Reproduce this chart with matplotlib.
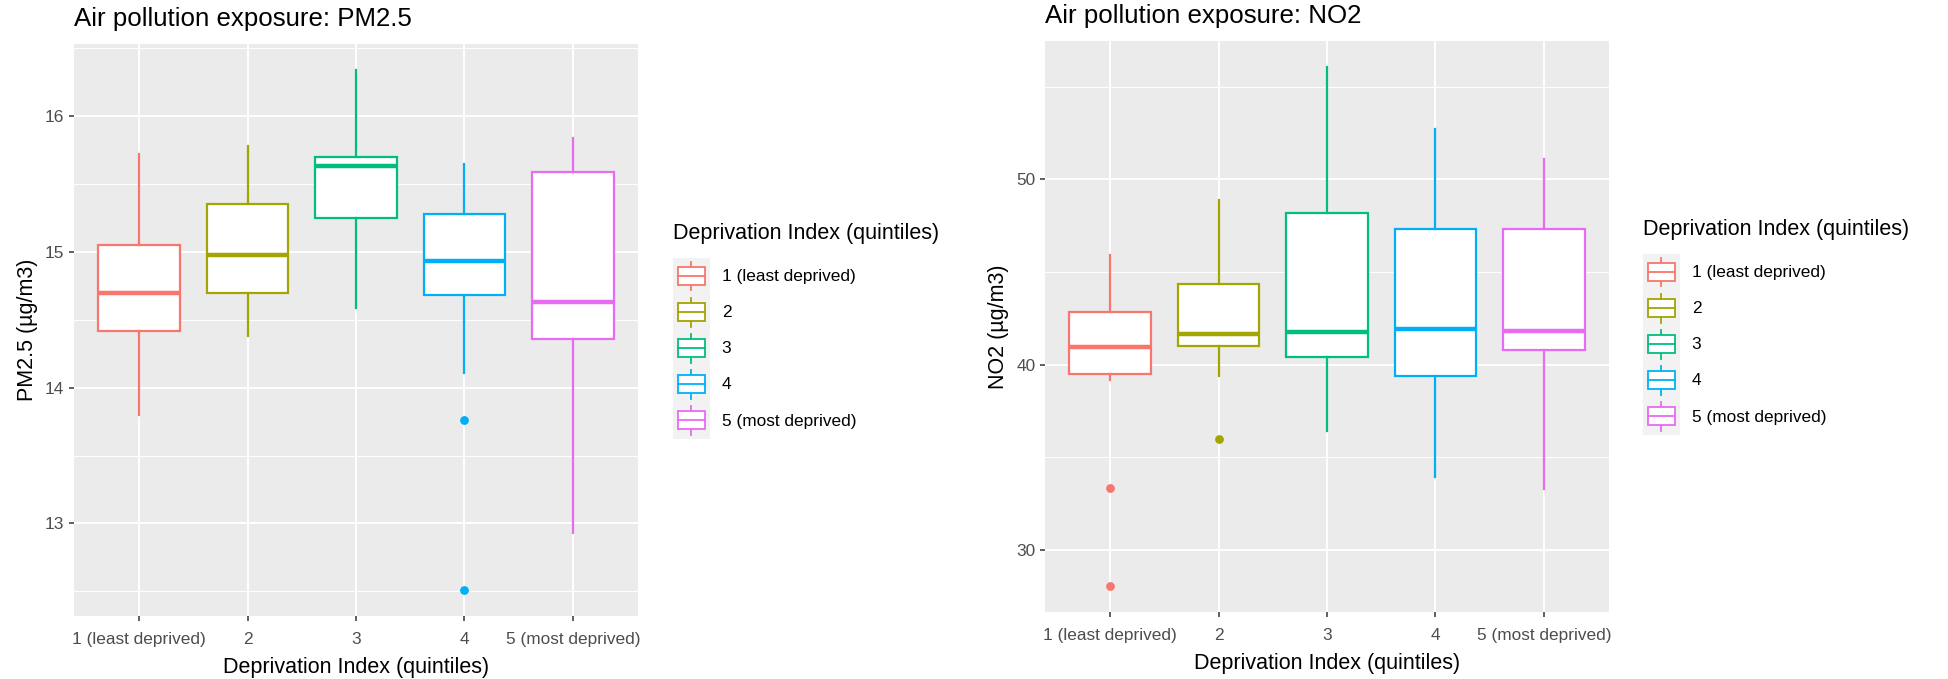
import matplotlib
matplotlib.use('Agg')
import matplotlib.pyplot as plt
from matplotlib.patches import Rectangle, Patch
from matplotlib.lines import Line2D
from matplotlib.legend_handler import HandlerBase
from matplotlib.ticker import MultipleLocator

plt.rcParams['font.family'] = ['Liberation Sans', 'DejaVu Sans']

# ---- data ----
categories = ['1 (least deprived)', '2', '3', '4', '5 (most deprived)']
colors = ['#F8766D', '#A3A500', '#00BF7D', '#00B0F6', '#E76BF3']

pm_whislo = [13.80, 14.38, 14.59, 14.11, 12.93]
pm_q1 = [14.42, 14.70, 15.25, 14.68, 14.36]
pm_med = [14.70, 14.98, 15.63, 14.93, 14.63]
pm_q3 = [15.05, 15.35, 15.70, 15.28, 15.59]
pm_whishi = [15.72, 15.78, 16.34, 15.65, 15.84]
pm_outliers = [[], [], [], [13.76, 12.51], []]

no2_whislo = [39.20, 39.38, 36.40, 33.93, 33.28]
no2_q1 = [39.48, 41.01, 40.43, 39.41, 40.78]
no2_med = [40.97, 41.66, 41.76, 41.92, 41.83]
no2_q3 = [42.83, 44.34, 48.18, 47.32, 47.32]
no2_whishi = [45.90, 48.88, 56.08, 52.72, 51.09]
no2_outliers = [[33.33, 28.04], [35.98], [], [], []]

legend_title = 'Deprivation Index (quintiles)'


class BoxKeyHandler(HandlerBase):
    # ggplot-like boxplot legend key
    def create_artists(self, legend, orig_handle, xdescent, ydescent,
                       width, height, fontsize, trans):
        c = orig_handle.get_edgecolor()
        x0, y0 = -xdescent, -ydescent
        arts = [Rectangle((x0, y0), width, height, fc='#F2F2F2', ec='none',
                          transform=trans)]
        xm = x0 + width / 2
        arts.append(Line2D([xm, xm], [y0 + 0.1 * height, y0 + 0.25 * height],
                           color=c, lw=1.3, transform=trans))
        arts.append(Line2D([xm, xm], [y0 + 0.75 * height, y0 + 0.9 * height],
                           color=c, lw=1.3, transform=trans))
        arts.append(Rectangle((x0 + 0.125 * width, y0 + 0.25 * height),
                              0.75 * width, 0.5 * height, fc='white', ec=c,
                              lw=1.3, transform=trans))
        arts.append(Line2D([x0 + 0.125 * width, x0 + 0.875 * width],
                           [y0 + 0.5 * height, y0 + 0.5 * height],
                           color=c, lw=1.3, transform=trans))
        return arts


def draw_panel(ax, whislo, q1, med, q3, whishi, outliers, title, ylabel,
               major, minor):
    stats = []
    for i in range(len(categories)):
        stats.append(dict(whislo=whislo[i], q1=q1[i], med=med[i], q3=q3[i],
                          whishi=whishi[i], fliers=outliers[i]))
    pos = list(range(1, len(categories) + 1))
    res = ax.bxp(stats, positions=pos, widths=0.75, showcaps=False,
                 patch_artist=True)
    for i, c in enumerate(colors):
        res['boxes'][i].set(facecolor='white', edgecolor=c, linewidth=1.6)
        res['whiskers'][2 * i].set(color=c, linewidth=1.6)
        res['whiskers'][2 * i + 1].set(color=c, linewidth=1.6)
        res['medians'][i].set(color=c, linewidth=3.2)
        res['fliers'][i].set(marker='o', markerfacecolor=c,
                             markeredgecolor=c, markersize=5.3)

    # ggplot-style 5% expansion
    allv = whislo + whishi + [v for o in outliers for v in o]
    lo, hi = min(allv), max(allv)
    pad = (hi - lo) * 0.05
    ax.set_ylim(lo - pad, hi + pad)
    ax.set_xlim(0.4, len(categories) + 0.6)

    ax.set_xticks(pos)
    ax.set_xticklabels(categories)
    ax.yaxis.set_major_locator(MultipleLocator(major))
    ax.yaxis.set_minor_locator(MultipleLocator(minor))

    ax.set_facecolor('#EBEBEB')
    for s in ax.spines.values():
        s.set_visible(False)
    ax.set_axisbelow(True)
    ax.grid(which='major', color='white', linewidth=1.4)
    ax.grid(which='minor', axis='y', color='white', linewidth=0.7)
    ax.tick_params(which='major', colors='#333333', labelcolor='#4D4D4D',
                   labelsize=12.4, length=3.5, width=1.1)
    ax.tick_params(axis='x', pad=8)
    ax.tick_params(which='minor', length=0)

    ax.set_title(title, loc='left', fontsize=18.6, pad=13)
    ax.set_xlabel(legend_title, fontsize=15.5, labelpad=7)
    ax.set_ylabel(ylabel, fontsize=15.5, labelpad=5)

    handles = [Patch(edgecolor=c, facecolor='white', label=l)
               for c, l in zip(colors, categories)]
    return handles


fig = plt.figure(figsize=(19.48, 6.79), dpi=100)
ax1 = fig.add_axes([74 / 1948, (679 - 616) / 679, 564 / 1948, 572 / 679])
ax2 = fig.add_axes([1045 / 1948, (679 - 612.3) / 679, 564 / 1948, 571.6 / 679])

h = draw_panel(ax1, pm_whislo, pm_q1, pm_med, pm_q3, pm_whishi, pm_outliers,
               'Air pollution exposure: PM2.5', 'PM2.5 (µg/m3)', 1, 0.5)
draw_panel(ax2, no2_whislo, no2_q1, no2_med, no2_q3, no2_whishi, no2_outliers,
           'Air pollution exposure: NO2', 'NO2 (µg/m3)', 10, 5)

for xa, ytop in [(673, 223), (1643, 219)]:
    leg = fig.legend(handles=h, handler_map={Patch: BoxKeyHandler()},
                     loc='upper left',
                     bbox_to_anchor=(xa / 1948, 1 - ytop / 679),
                     frameon=False, fontsize=12.4, title=legend_title,
                     title_fontsize=15.5, alignment='left',
                     handlelength=2.13, handleheight=2.85,
                     labelspacing=0, handletextpad=0.7,
                     borderpad=0, borderaxespad=0)
    # gap between legend title and keys
    leg._legend_box.sep = 10

fig.savefig('out.png', dpi=100)
